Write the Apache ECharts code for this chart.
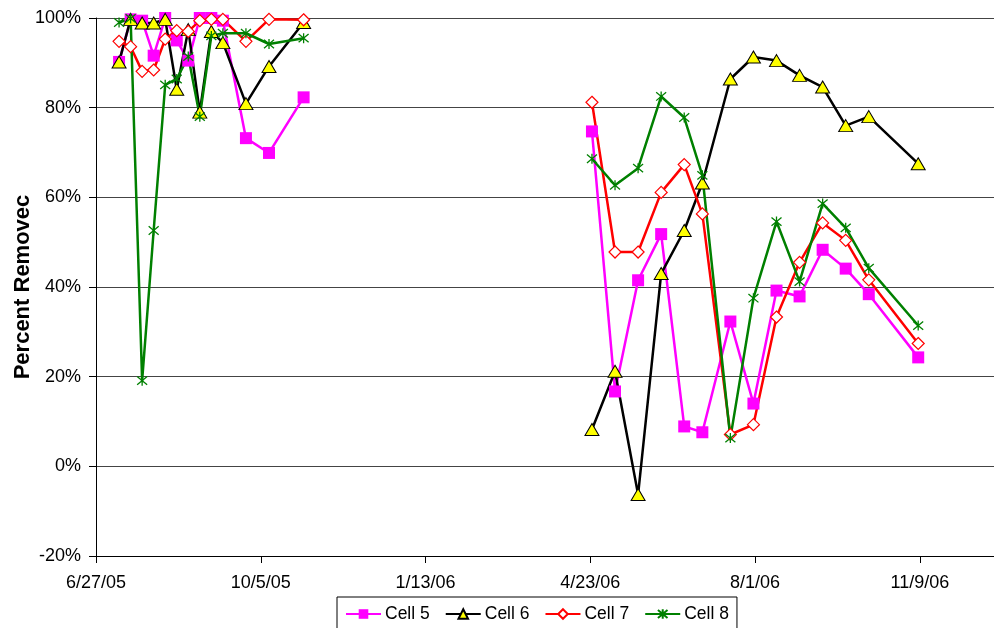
<!DOCTYPE html>
<html>
<head>
<meta charset="utf-8">
<script src="https://cdn.jsdelivr.net/npm/echarts@6/dist/echarts.min.js"></script>
<style>
html,body{margin:0;padding:0;background:#fff;}
#chart{width:994px;height:628px;}
</style>
</head>
<body>
<div id="chart"></div>
<script>
// Sample dates (m/d/yy)
const dates = ['7/11/05','7/18/05','7/25/05','8/1/05','8/8/05','8/15/05','8/22/05','8/29/05','9/5/05','9/12/05','9/26/05','10/10/05','10/31/05',
               '4/24/06','5/8/06','5/22/06','6/5/06','6/19/06','6/30/06','7/17/06','7/31/06','8/14/06','8/28/06','9/11/06','9/25/06','10/9/06','11/8/06'];
const cell5 = [90.2, 99.7, 99.4, 91.6, 100, 95.0, 90.5, 100, 100, 99.4, 73.2, 69.9, 82.3,
               74.7, 16.7, 41.5, 51.8, 8.9, 7.6, 32.3, 14.0, 39.2, 37.9, 48.3, 44.1, 38.4, 24.3];
const cell6 = [90.2, 99.7, 98.9, 98.9, 99.7, 84.1, 97.4, 79.0, 97.0, 94.5, 80.9, 89.2, 99.0,
               8.2, 21.2, -6.3, 43.0, 52.6, 63.2, 86.4, 91.3, 90.5, 87.2, 84.6, 76.0, 78.0, 67.5];
const cell7 = [94.8, 93.6, 88.1, 88.4, 95.3, 97.2, 97.0, 99.4, 99.7, 99.7, 94.8, 99.7, 99.6,
               81.2, 47.8, 47.8, 61.1, 67.3, 56.3, 7.1, 9.3, 33.3, 45.5, 54.3, 50.4, 41.6, 27.4];
const cell8 = [99.0, 99.9, 19.1, 52.6, 85.1, 86.4, 91.4, 78.0, 96.0, 96.6, 96.6, 94.2, 95.5,
               68.6, 62.7, 66.5, 82.5, 77.8, 64.9, 6.3, 37.5, 54.6, 41.2, 58.6, 53.2, 44.2, 31.4];
const seriesNames = ['Cell 5','Cell 6','Cell 7','Cell 8'];
const yTicks = {min: -20, max: 100, interval: 20};
const xStart = '6/27/05';   // first x-axis tick
const xTickDays = 100;       // days between x-axis ticks
const xEndDays = 545;        // visible end of the (cropped) time axis

function parseDate(s){
  const p = s.split('/').map(Number);
  return Date.UTC(2000 + p[2], p[0]-1, p[1]);
}
const DAY = 86400000;
const origin = parseDate(xStart);
function dayOf(s){ return Math.round((parseDate(s) - origin)/DAY); }
function fmtDay(d){
  const dt = new Date(origin + d*DAY);
  return (dt.getUTCMonth()+1) + '/' + dt.getUTCDate() + '/' + String(dt.getUTCFullYear()).slice(2);
}
function build(vals){
  const out = [];
  for (let i = 0; i < dates.length; i++){
    const d = dayOf(dates[i]);
    if (i > 0 && d - dayOf(dates[i-1]) > 60) out.push([d - 1, '-']);
    out.push([d, vals[i]]);
  }
  return out;
}

const star = 'path://M0,0L10,10M10,0L0,10M5,-1L5,11';
const FONT = '"Liberation Sans", Arial, sans-serif';

const chart = echarts.init(document.getElementById('chart'), null, {renderer:'canvas'});
chart.setOption({
  animation: false,
  backgroundColor: '#fff',
  grid: {left: 96, top: 18, bottom: 72, right: 0, containLabel: false, outerBoundsMode: 'none'},
  xAxis: {
    type: 'value', min: 0, max: xEndDays, interval: xTickDays,
    axisLine: {show: true, onZero: false, lineStyle: {color: '#000', width: 1}},
    axisTick: {show: true, length: 7, lineStyle: {color: '#000'}},
    axisLabel: {color: '#000', fontFamily: FONT, fontSize: 18, margin: 18, showMaxLabel: false,
                formatter: v => (v % xTickDays === 0 ? fmtDay(v) : '')},
    splitLine: {show: false}
  },
  yAxis: {
    type: 'value', min: yTicks.min, max: yTicks.max, interval: yTicks.interval,
    name: 'Percent Removec', nameLocation: 'middle', nameGap: 62, nameMoveOverlap: false,
    nameTextStyle: {color: '#000', fontFamily: FONT, fontSize: 22, fontWeight: 'bold'},
    axisLine: {show: true, lineStyle: {color: '#000', width: 1}},
    axisTick: {show: true, length: 7, lineStyle: {color: '#000'}},
    axisLabel: {color: '#000', fontFamily: FONT, fontSize: 18, margin: 15, formatter: '{value}%'},
    splitLine: {show: true, lineStyle: {color: '#444', width: 1}}
  },
  legend: {
    left: 337, top: 597,
    padding: [8, 8, 14, 8],
    borderColor: '#000', borderWidth: 1,
    itemWidth: 35, itemHeight: 12, itemGap: 15,
    textStyle: {color: '#000', fontFamily: FONT, fontSize: 17.5, padding: [0,0,0,-1]},
    data: seriesNames
  },
  series: [
    {name: seriesNames[0], type: 'line', data: build(cell5), connectNulls: false,
     symbol: 'rect', symbolSize: 12,
     itemStyle: {color: '#FF00FF'}, lineStyle: {color: '#FF00FF', width: 2.5}},
    {name: seriesNames[1], type: 'line', data: build(cell6), connectNulls: false,
     symbol: 'triangle', symbolSize: [14, 12],
     itemStyle: {color: '#FFFF00', borderColor: '#000', borderWidth: 1},
     lineStyle: {color: '#000', width: 2.5}},
    {name: seriesNames[2], type: 'line', data: build(cell7), connectNulls: false,
     symbol: 'diamond', symbolSize: 12,
     itemStyle: {color: '#fff', borderColor: '#FF0000', borderWidth: 1.2},
     lineStyle: {color: '#FF0000', width: 2.5}},
    {name: seriesNames[3], type: 'line', data: build(cell8), connectNulls: false,
     symbol: star, symbolSize: 10,
     itemStyle: {color: '#008000', borderColor: '#008000', borderWidth: 1.3},
     lineStyle: {color: '#008000', width: 2.5}}
  ]
});
</script>
</body>
</html>
